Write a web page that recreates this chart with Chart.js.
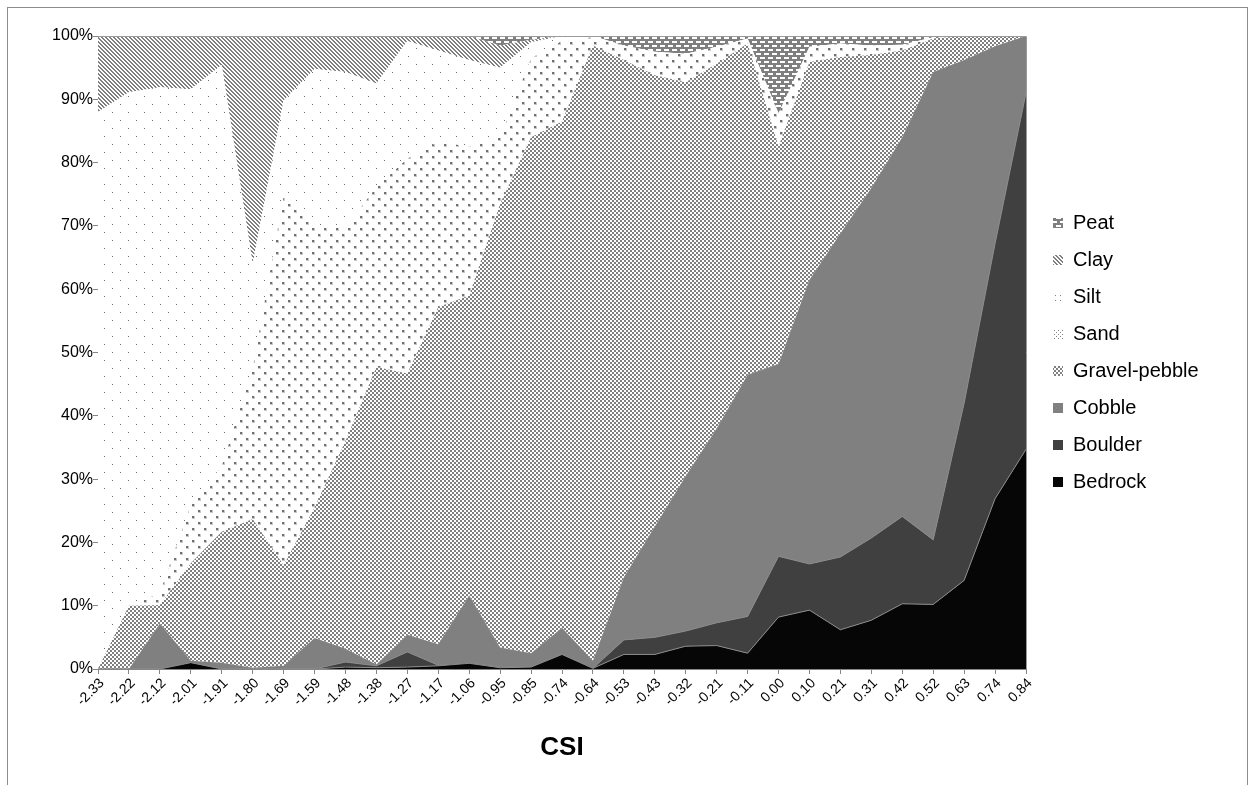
<!DOCTYPE html>
<html>
<head>
<meta charset="utf-8">
<script src="https://cdn.jsdelivr.net/npm/chart.js@4.4.1/dist/chart.umd.min.js"></script>
<style>
  html, body { margin: 0; padding: 0; background: #ffffff; }
  #wrap { width: 1254px; height: 785px; position: relative; }
</style>
</head>
<body>
<div id="wrap"><canvas id="c" width="1254" height="785"></canvas></div>
<script>
// ---- data (percent of total per CSI class) ----
const categories = ['-2.33','-2.22','-2.12','-2.01','-1.91','-1.80','-1.69','-1.59','-1.48','-1.38','-1.27','-1.17','-1.06','-0.95','-0.85','-0.74','-0.64','-0.53','-0.43','-0.32','-0.21','-0.11','0.00','0.10','0.21','0.31','0.42','0.52','0.63','0.74','0.84'];
const bedrock = [0,0,0,1.0,0,0,0,0,0.3,0.2,0.3,0.5,0.9,0.2,0.3,2.3,0.1,2.3,2.3,3.6,3.7,2.5,8.2,9.3,6.2,7.7,10.3,10.2,14.0,26.9,34.7];
const boulder = [0,0,0,0,0,0,0,0,0.8,0.3,2.4,0.1,0,0.1,0,0,0,2.3,2.7,2.4,3.6,5.8,9.6,7.3,11.5,13.0,13.8,10.2,28.0,40.3,56.3];
const cobble = [0,0,7.2,0.3,1.0,0.2,0.5,4.9,2.1,0.2,2.7,3.3,10.7,3.1,2.2,4.2,1.2,9.9,17.5,24.5,30.7,38.2,30.4,44.9,51.1,55.3,59.9,73.9,54.2,31.2,9.0];
const gravel = [0,10,2.9,15.4,20.7,23.5,15.9,20.6,32.8,47.0,41.3,53.3,47.4,70.1,81.5,80.0,97.2,81.7,71.3,62.2,57.6,52.3,34.3,34.4,27.9,21.0,13.7,5.3,3.8,1.6,0];
const sand = [0,0,1.9,9.3,10.3,23.8,58.2,44.6,33.8,28.4,33.9,26.1,23.5,10.5,12.5,12.7,1.3,2.3,3.7,4.5,2.7,0.8,5.3,2.4,2.1,1.5,0.9,0.2,0,0,0];
const silt = [88,81.1,79.9,65.6,63.4,16.5,15.2,24.7,24.5,16.4,18.6,14.4,13.7,11.0,2.5,0.8,0.2,0,0,0,0,0,0,0,0,0,0,0,0,0,0];
const clay = [12,8.9,8.1,8.4,4.6,36,10.2,5.2,5.7,7.5,0.8,2.3,3.8,3.5,0.4,0,0,0,0,0,0,0,0,0,0,0,0,0,0,0,0];
const peat = [0,0,0,0,0,0,0,0,0,0,0,0,0,1.5,0.6,0,0,1.5,2.5,2.8,1.7,0.4,12.2,1.7,1.2,1.5,1.4,0.2,0,0,0];
const yTicks = [0,10,20,30,40,50,60,70,80,90,100];

// ---- fill patterns (styles) ----
const GRAY = '#7f7f7f';
function pattern(w, h, draw) {
  const c = document.createElement('canvas');
  c.width = w; c.height = h;
  const g = c.getContext('2d');
  draw(g);
  return g.createPattern(c, 'repeat');
}
const peatFill = pattern(8, 8, g => {
  g.fillStyle = GRAY; g.fillRect(0, 0, 8, 8);
  g.fillStyle = '#ffffff';
  g.fillRect(0, 1, 5, 2);
  g.fillRect(4, 5, 4, 2); g.fillRect(0, 5, 1, 2);
});
const clayFill = pattern(4, 4, g => {
  g.fillStyle = '#ffffff'; g.fillRect(0, 0, 4, 4);
  g.fillStyle = GRAY;
  for (let y = 0; y < 4; y++) {
    g.fillRect(y % 4, y, 1, 1);
    g.fillRect((y + 1) % 4, y, 1, 1);
  }
});
const siltFill = pattern(16, 16, g => {
  g.fillStyle = '#ffffff'; g.fillRect(0, 0, 16, 16);
  g.fillStyle = '#6e6e6e';
  g.fillRect(0, 0, 1, 1); g.fillRect(8, 8, 1, 1);
});
const sandFill = pattern(12, 12, g => {
  g.fillStyle = '#ffffff'; g.fillRect(0, 0, 12, 12);
  g.fillStyle = '#c8c8c8';
  g.fillRect(0, 0, 3, 3); g.fillRect(6, 6, 3, 3);
  g.fillStyle = '#707070';
  g.fillRect(0, 0, 2, 2); g.fillRect(6, 6, 2, 2);
});
const gravelFill = pattern(4, 4, g => {
  g.fillStyle = '#ffffff'; g.fillRect(0, 0, 4, 4);
  g.fillStyle = GRAY;
  g.fillRect(0, 0, 2, 2); g.fillRect(2, 2, 2, 2);
});
// small legend-swatch versions of the sparse dot fills
const siltIcon = pattern(5, 5, g => {
  g.fillStyle = '#ffffff'; g.fillRect(0, 0, 5, 5);
  g.fillStyle = '#808080'; g.fillRect(0, 0, 1, 1);
});
const sandIcon = pattern(4, 4, g => {
  g.fillStyle = '#ffffff'; g.fillRect(0, 0, 4, 4);
  g.fillStyle = '#808080'; g.fillRect(0, 0, 1, 1); g.fillRect(2, 2, 1, 1);
});

const seriesDefs = [
  { label: 'Bedrock', data: bedrock, bg: '#060606', border: '#8a8a8a' },
  { label: 'Boulder', data: boulder, bg: '#404040', border: '#8a8a8a' },
  { label: 'Cobble', data: cobble, bg: '#808080', border: 'rgba(0,0,0,0)' },
  { label: 'Gravel-pebble', data: gravel, bg: gravelFill, border: 'rgba(0,0,0,0)' },
  { label: 'Sand', data: sand, bg: sandFill, border: 'rgba(0,0,0,0)', icon: sandIcon },
  { label: 'Silt', data: silt, bg: siltFill, border: 'rgba(0,0,0,0)', icon: siltIcon },
  { label: 'Clay', data: clay, bg: clayFill, border: 'rgba(0,0,0,0)' },
  { label: 'Peat', data: peat, bg: peatFill, border: 'rgba(0,0,0,0)' }
];

// 100% stacking: normalise each category to its total
const totals = categories.map((_, i) => seriesDefs.reduce((s, d) => s + d.data[i], 0));
const datasets = seriesDefs.map((d, k) => ({
  label: d.label,
  data: d.data.map((v, i) => totals[i] ? v / totals[i] * 100 : 0),
  backgroundColor: d.bg,
  borderColor: d.border,
  borderWidth: k < 2 ? 1 : 0,
  fill: k === 0 ? 'origin' : '-1',
  pointRadius: 0,
  pointHoverRadius: 0,
  tension: 0
}));

const FONT = "'Liberation Sans', Arial, sans-serif";

const frame = {
  id: 'frame',
  afterLayout(chart) {
    const lg = chart.legend, a = chart.chartArea;
    lg.left = a.right + 10;
    lg.right = lg.left + 200;
    lg.top = a.top;
    lg.bottom = a.bottom;
    lg.height = a.bottom - a.top;
  },
  beforeDraw(chart) {
    const g = chart.ctx;
    g.save();
    g.fillStyle = '#ffffff';
    g.fillRect(0, 0, chart.width, chart.height);
    g.strokeStyle = '#8c8c8c';
    g.lineWidth = 1;
    g.strokeRect(7.5, 7.5, 1240, 800);
    g.restore();
  },
  afterDatasetsDraw(chart) {
    const a = chart.chartArea, g = chart.ctx;
    g.save();
    g.strokeStyle = '#9a9a9a';
    g.lineWidth = 1;
    g.beginPath();
    g.moveTo(a.left, Math.round(a.top) + 0.5);
    g.lineTo(Math.round(a.right) + 0.5, Math.round(a.top) + 0.5);
    g.lineTo(Math.round(a.right) + 0.5, a.bottom);
    g.stroke();
    g.restore();
  }
};

new Chart(document.getElementById('c'), {
  type: 'line',
  data: { labels: categories, datasets },
  plugins: [frame],
  options: {
    responsive: false,
    animation: false,
    devicePixelRatio: 1,
    layout: { padding: { top: 36, left: 0, right: 78, bottom: 0 } },
    plugins: {
      tooltip: { enabled: false },
      legend: {
        position: 'right',
        reverse: true,
        maxWidth: 150,
        labels: {
          boxWidth: 10,
          boxHeight: 10,
          padding: 17,
          color: '#000',
          font: { family: FONT, size: 20 },
          generateLabels(chart) {
            const items = Chart.defaults.plugins.legend.labels.generateLabels(chart);
            items.forEach(it => {
              const def = seriesDefs[it.datasetIndex];
              if (def && def.icon) it.fillStyle = def.icon;
              it.lineWidth = 0;
              it.strokeStyle = 'rgba(0,0,0,0)';
            });
            return items;
          }
        }
      }
    },
    scales: {
      x: {
        type: 'category',
        offset: false,
        afterFit(s) { s.height = 116; },
        border: { color: '#868686', width: 1 },
        grid: { drawOnChartArea: false, drawTicks: true, tickLength: 5, color: '#868686' },
        ticks: {
          autoSkip: false, maxRotation: 45, minRotation: 45,
          color: '#000', padding: 1, labelOffset: 4,
          font: { family: FONT, size: 14 }
        },
        title: {
          display: true, text: 'CSI', color: '#000',
          font: { family: FONT, size: 26, weight: 'bold' },
          padding: { top: 4, bottom: 22 }
        }
      },
      y: {
        stacked: true,
        min: 0, max: 100,
        afterFit(s) { s.width = 98; },
        afterBuildTicks(s) { s.ticks = yTicks.map(v => ({ value: v })); },
        border: { color: '#868686', width: 1 },
        grid: { drawOnChartArea: false, drawTicks: true, tickLength: 5, color: '#868686' },
        ticks: {
          color: '#000', padding: 0,
          font: { family: FONT, size: 16 },
          callback: v => v + '%'
        }
      }
    }
  }
});
</script>
</body>
</html>
